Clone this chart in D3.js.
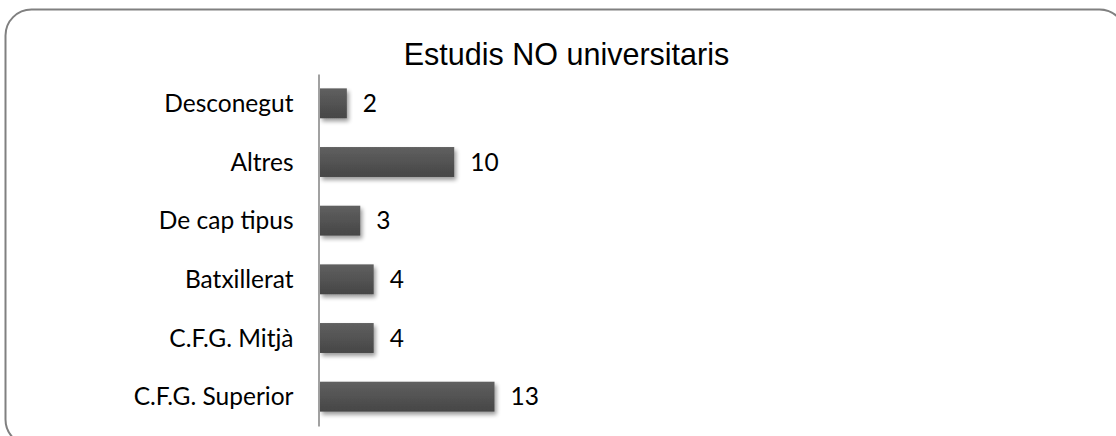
<!DOCTYPE html>
<html>
<head>
<meta charset="utf-8">
<script src="https://cdn.jsdelivr.net/npm/d3@7"></script>
<style>
html,body{margin:0;padding:0;background:#fff;}
svg{display:block;}
</style>
</head>
<body>
<svg id="chart" width="1116" height="436"></svg>
<script>
const title = "Estudis NO universitaris";
const categories = ["Desconegut", "Altres", "De cap tipus", "Batxillerat", "C.F.G. Mitjà", "C.F.G. Superior"];
const values = [2, 10, 3, 4, 4, 13];

const svg = d3.select("#chart");
const W = 1116, H = 436;
const labelFont = "Lato, 'Open Sans', sans-serif";

svg.append("rect").attr("width", W).attr("height", H).attr("fill", "#fff");

const defs = svg.append("defs");
const grad = defs.append("linearGradient").attr("id", "barGrad")
  .attr("x1", 0).attr("y1", 0).attr("x2", 0).attr("y2", 1);
grad.append("stop").attr("offset", "0%").attr("stop-color", "#606060");
grad.append("stop").attr("offset", "100%").attr("stop-color", "#464646");

const flt = defs.append("filter").attr("id", "shadow")
  .attr("x", "-10%").attr("y", "-20%").attr("width", "130%").attr("height", "160%");
flt.append("feGaussianBlur").attr("in", "SourceAlpha").attr("stdDeviation", 2.2).attr("result", "b");
flt.append("feOffset").attr("in", "b").attr("dx", 2).attr("dy", 3).attr("result", "o");
flt.append("feComponentTransfer").attr("in", "o").attr("result", "oa")
  .append("feFuncA").attr("type", "linear").attr("slope", 0.4);
const m = flt.append("feMerge");
m.append("feMergeNode").attr("in", "oa");
m.append("feMergeNode").attr("in", "SourceGraphic");

// Border
svg.append("rect")
  .attr("x", 5.5).attr("y", 9.5)
  .attr("width", 1120).attr("height", 436)
  .attr("rx", 26).attr("ry", 26)
  .attr("fill", "none").attr("stroke", "#808080").attr("stroke-width", 2);

// Title
svg.append("text")
  .attr("x", 566.5).attr("y", 65)
  .attr("text-anchor", "middle")
  .attr("font-family", "'Liberation Sans', Arial, sans-serif")
  .attr("font-size", 30.5)
  .attr("fill", "#000")
  .text(title);

const y = d3.scaleBand().domain(categories).range([74, 426])
  .paddingInner(0.49).paddingOuter(0.245);
const x = d3.scaleLinear().domain([0, 13]).range([320, 494.5]);

// Bars
svg.append("g").selectAll("rect").data(categories).join("rect")
  .attr("x", x(0))
  .attr("y", d => y(d))
  .attr("width", (d, i) => x(values[i]) - x(0))
  .attr("height", y.bandwidth())
  .attr("fill", "url(#barGrad)")
  .attr("filter", "url(#shadow)");

// Axis (category axis line, no ticks)
const axis = svg.append("g").attr("transform", `translate(${x(0) - 1.5},0)`)
  .call(d3.axisLeft(y).tickSize(0).tickPadding(25));
axis.select(".domain").attr("stroke", "#8a8a8a").attr("stroke-width", 1.6);
axis.selectAll("text")
  .attr("font-family", labelFont)
  .attr("font-size", 24.5)
  .attr("fill", "#000")
  .attr("dy", null)
  .attr("y", 8.5);

// Value labels
svg.append("g").selectAll("text").data(categories).join("text")
  .attr("x", (d, i) => x(values[i]) + 16)
  .attr("y", d => y(d) + y.bandwidth() / 2 + 8.5)
  .attr("font-family", labelFont)
  .attr("font-size", 24.5)
  .attr("fill", "#000")
  .text((d, i) => values[i]);
</script>
</body>
</html>
